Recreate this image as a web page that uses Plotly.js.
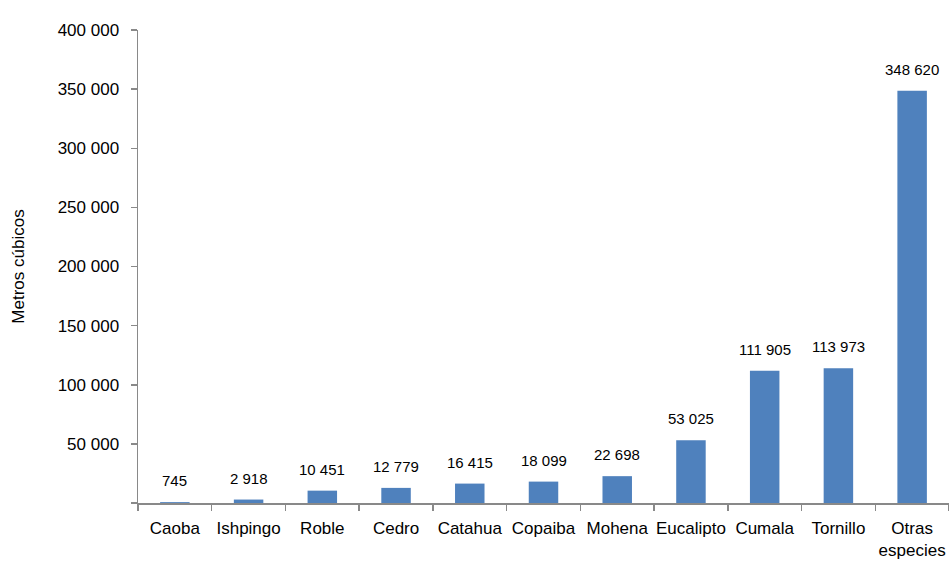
<!DOCTYPE html>
<html>
<head>
<meta charset="utf-8">
<script src="https://cdn.plot.ly/plotly-3.0.1.min.js"></script>
<style>html,body{margin:0;padding:0;background:#fff;}#chart{width:949px;height:561px;}</style>
</head>
<body>
<div id="chart"></div>
<script>
const categories = ["Caoba", "Ishpingo", "Roble", "Cedro", "Catahua", "Copaiba", "Mohena", "Eucalipto", "Cumala", "Tornillo", "Otras<br>especies"];
const volumes = [745, 2918, 10451, 12779, 16415, 18099, 22698, 53025, 111905, 113973, 348620];
const yTickValues = [0, 50000, 100000, 150000, 200000, 250000, 300000, 350000, 400000];
const yTickLabels = ["", "50 000", "100 000", "150 000", "200 000", "250 000", "300 000", "350 000", "400 000"];

function fmt(v) {
  return String(v).replace(/\B(?=(\d{3})+(?!\d))/g, " ");
}

const FONT = "Liberation Sans, Arial, sans-serif";

const trace = {
  type: "bar",
  x: categories,
  y: volumes,
  marker: {color: "#4F81BD"},
  hoverinfo: "x+y"
};

const annotations = categories.map((c, i) => ({
  x: c,
  y: volumes[i],
  xref: "x",
  yref: "y",
  text: fmt(volumes[i]),
  showarrow: false,
  yanchor: "bottom",
  yshift: 11,
  font: {family: FONT, size: 15, color: "#000"}
}));

const layout = {
  width: 949,
  height: 561,
  margin: {l: 138, r: 0, t: 30, b: 58},
  paper_bgcolor: "#fff",
  plot_bgcolor: "#fff",
  bargap: 0.6,
  showlegend: false,
  font: {family: FONT, size: 17, color: "#000"},
  annotations: annotations,
  xaxis: {
    type: "category",
    showline: true,
    linecolor: "#898989",
    linewidth: 1.5,
    ticks: "outside",
    tickson: "boundaries",
    ticklen: 6,
    tickcolor: "#898989",
    tickwidth: 1.5,
    tickangle: 0,
    ticklabelstandoff: 9,
    showgrid: false,
    zeroline: false,
    automargin: false,
    tickfont: {size: 17}
  },
  yaxis: {
    range: [0, 400000],
    tickvals: yTickValues,
    ticktext: yTickLabels,
    showline: true,
    linecolor: "#898989",
    linewidth: 1.5,
    ticks: "outside",
    ticklen: 6,
    tickcolor: "#898989",
    tickwidth: 1.5,
    ticklabelstandoff: 8,
    showgrid: false,
    zeroline: false,
    automargin: false,
    tickfont: {size: 17},
    title: {text: "Metros cúbicos", font: {size: 17}, standoff: 28}
  }
};

Plotly.newPlot("chart", [trace], layout, {displayModeBar: false, staticPlot: true});
</script>
</body>
</html>
